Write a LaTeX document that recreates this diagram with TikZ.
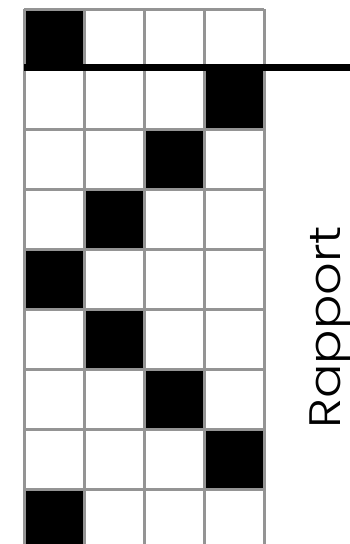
\documentclass[tikz,border=0pt]{standalone}
\usepackage{fontspec}
\newfontfamily\labelfont{Poppins Light}
\tikzset{
  gridline/.style={draw=black!42, line width=3pt},
  cell/.style={fill=black},
  rapport/.style={rotate=90, font=\labelfont\fontsize{44}{50}\selectfont, inner sep=0pt, anchor=base west}
}
\begin{document}
\begin{tikzpicture}[x=1pt,y=-1pt]
\useasboundingbox (0,0) rectangle (350,544);
% black cells: row -> column
\foreach \r/\c in {0/0,1/3,2/2,3/1,4/0,5/1,6/2,7/3,8/0} {
  \fill[cell] (24+60*\c, 9+60*\r) rectangle (84+60*\c, 69+60*\r);
}
% grid
\foreach \i in {0,...,4} {
  \draw[gridline] (24+60*\i, 9) -- (24+60*\i, 544);
}
\foreach \j in {0,...,8} {
  \draw[gridline] (24, 9+60*\j) -- (264, 9+60*\j);
}
% thick rapport line
\coordinate (ls) at (24,67);
\coordinate (le) at (350,67);
\draw[line width=7pt] (ls) -- (le);
\node[rapport] (lab) at (340,429) {\scalebox{1.16}[1]{Rapport}};
\end{tikzpicture}
\end{document}
